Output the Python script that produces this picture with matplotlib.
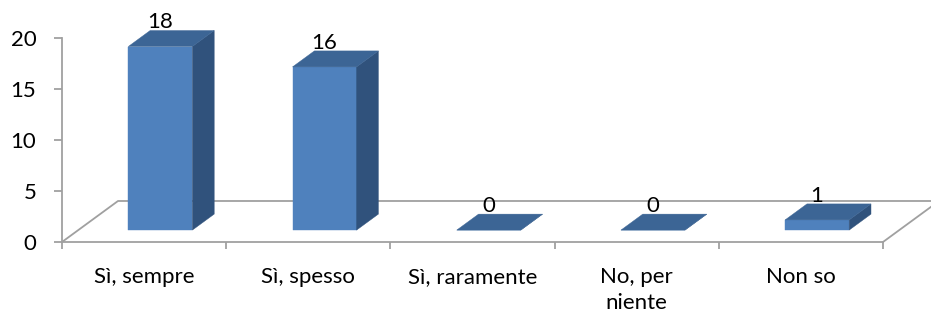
import numpy as np
import matplotlib
matplotlib.use("Agg")
import matplotlib.pyplot as plt
from matplotlib.patches import Polygon

# chart data
categories = ['Sì, sempre', 'Sì, spesso', 'Sì, raramente', 'No, per\nniente', 'Non so']
values = [18, 16, 0, 0, 1]
y_ticks = [0, 5, 10, 15, 20]

# colours (Excel 2007 style)
front_col = '#4F81BD'
top_col = '#3C6595'
side_col = '#30527C'
floor_col = '#A0A0A0'

# 3D look: floor depth in data units
depth_x = 0.341
depth_y = 4.02
f_front, f_back = 0.29, 0.68
bar_w = 0.39
fs = 16

plt.rcParams['font.family'] = ['Lato', 'DejaVu Sans']

fig = plt.figure(figsize=(9.31, 3.24), dpi=100)
ax = fig.add_axes([62 / 931, 82 / 324, 821 / 931, 204 / 324])
ax.set_xlim(0, len(categories))
ax.set_ylim(0, 20)

# spines: only left (value axis) and bottom (front floor edge)
for s in ['top', 'right']:
    ax.spines[s].set_visible(False)
for s in ['left', 'bottom']:
    ax.spines[s].set_color(floor_col)
    ax.spines[s].set_linewidth(1.3)

ax.set_yticks(y_ticks)
ax.tick_params(axis='y', length=5.5, width=1.3, color=floor_col, pad=13, labelsize=fs)
ax.set_xticks(np.arange(len(categories) + 1))
ax.set_xticklabels([])
ax.set_xticks(np.arange(len(categories)) + 0.5, minor=True)
ax.set_xticklabels(categories, minor=True, linespacing=1.35)
ax.tick_params(axis='x', which='major', length=5, width=1.3, color=floor_col)
ax.tick_params(axis='x', which='minor', length=0, pad=18, labelsize=fs)

# floor outline (back edge and sides)
n = len(categories)
ax.plot([0, depth_x, n + depth_x, n], [0, depth_y, depth_y, 0],
        color=floor_col, lw=1.3, clip_on=False, zorder=1)

# bars
for i, v in enumerate(values):
    x0 = i + 0.5 - bar_w / 2 + f_front * depth_x
    y0 = f_front * depth_y
    dx = (f_back - f_front) * depth_x
    dy = (f_back - f_front) * depth_y
    x1 = x0 + bar_w
    front = Polygon([(x0, y0), (x1, y0), (x1, y0 + v), (x0, y0 + v)],
                    closed=True, fc=front_col, ec=front_col, lw=0.3, zorder=3)
    side = Polygon([(x1, y0), (x1 + dx, y0 + dy), (x1 + dx, y0 + dy + v), (x1, y0 + v)],
                   closed=True, fc=side_col, ec=side_col, lw=0.3, zorder=3)
    top = Polygon([(x0, y0 + v), (x1, y0 + v), (x1 + dx, y0 + dy + v), (x0 + dx, y0 + dy + v)],
                  closed=True, fc=top_col, ec=top_col, lw=0.3, zorder=4)
    for p in (front, side, top):
        p.set_clip_on(False)
        ax.add_patch(p)
    ax.text((x0 + x1) / 2, y0 + dy + v + 0.2, str(v), ha='center', va='baseline',
            fontsize=fs, zorder=5, clip_on=False)

fig.savefig('out.png', dpi=100)
